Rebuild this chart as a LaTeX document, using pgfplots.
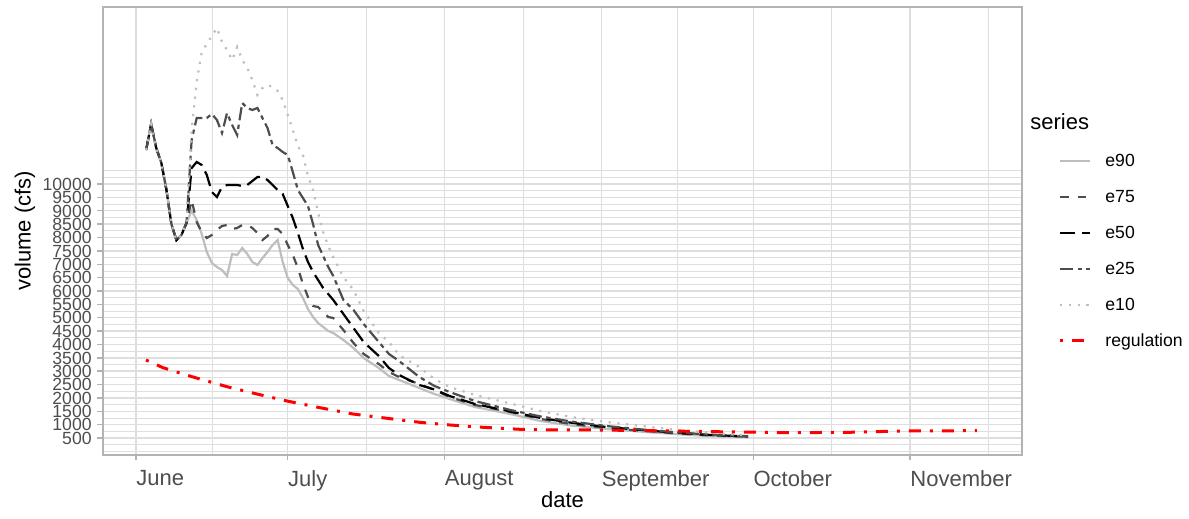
\documentclass[border=0pt]{standalone}
\usepackage{fontspec}
\setmainfont{Liberation Sans}
\usepackage{pgfplots}
\pgfplotsset{compat=1.18}
\definecolor{g70}{HTML}{B3B3B3}
\definecolor{g87}{HTML}{DEDEDE}
\definecolor{g30}{HTML}{4D4D4D}
\definecolor{g75}{HTML}{BEBEBE}
\begin{document}
\begin{tikzpicture}
\begin{axis}[
 scale only axis, width=459.5pt, height=224pt,
 xmin=145.48, xmax=327.13, ymin=-135, ymax=16620,
 scaled y ticks=false, scaled x ticks=false,
 xtick pos=bottom, ytick pos=left,
 xtick={152,182,213,244,274,305},
 xticklabels={June,July,August,September,October,November},
 minor xtick={167,197.5,228.5,259,289.5,320.5},
 ytick={500,1000,...,10000},
 yticklabels={500,1000,1500,2000,2500,3000,3500,4000,4500,5000,5500,6000,6500,7000,7500,8000,8500,9000,9500,10000},
 minor ytick={0,250,...,10500},
 tick align=outside, major tick length=2.75pt, minor tick length=0pt,
 tick style={g70, line width=0.7pt},
 xmajorgrids, ymajorgrids, xminorgrids, yminorgrids,
 major grid style={g87, line width=0.7pt},
 minor grid style={g87, line width=0.36pt},
 axis line style={g70, line width=1pt},
 xticklabel style={font=\fontsize{11}{13}\selectfont, text=g30, anchor=north west, inner sep=0pt, yshift=-4.75pt},
 yticklabel style={font=\fontsize{8.8}{10}\selectfont, text=g30, anchor=east, inner sep=0pt, xshift=-2.75pt, text height=6.3pt, text depth=0pt},
 xlabel={date}, ylabel={volume (cfs)},
 every axis x label/.style={at={(rel axis cs:0.5,-0.1004)}, anchor=center, font=\fontsize{11}{13}\selectfont},
 every axis y label/.style={at={(rel axis cs:-0.0849,0.5)}, rotate=90, anchor=center, font=\fontsize{11}{13}\selectfont},
 legend style={at={(rel axis cs:1.0392,0.6725)}, anchor=north west, draw=none, fill=none,
   inner sep=0pt, row sep=9.9pt, font=\fontsize{8.8}{10}\selectfont,
   nodes={inner sep=0pt, text height=6.3pt, text depth=1.8pt, anchor=base west}},
 legend cell align=left,
 legend image code/.code={\draw[#1] (0pt,3pt) -- (15pt,3pt); \path (22pt,3pt);},
 clip mode=individual,
]
\addplot[g75, line width=1.1pt] coordinates {
(154,11272) (155,12244) (156,11350) (157,10800) (158,9800) (159,8500) (160,7900) (161,8100) (162,8550)
(163,9000) (164,8654) (165,8130) (166,7457) (167,7045) (168,6896) (169,6784) (170,6559) (171,7382)
(172,7345) (173,7606) (174,7382) (175,7083) (176,6971) (177,7232) (178,7457) (179,7719) (180,7906)
(181,7083) (182,6484) (183,6223) (184,6073) (185,5736) (186,5325) (187,5026) (188,4801) (189,4652)
(190,4502) (191,4427) (193,4166) (195,3866) (197,3492) (200,3118) (202,2819) (204,2670) (208,2370)
(211,2146) (214,1959) (219,1660) (226,1398) (232,1136) (238,968) (245,837) (252,736) (258,657)
(265,575) (273,527)};
\addlegendentry{e90}
\addplot[g30, line width=1.1pt, dash pattern=on 4.4pt off 4.4pt] coordinates {
(154,11272) (155,12244) (156,11350) (157,10800) (158,9800) (159,8500) (160,7900) (161,8100) (162,8550)
(163,9402) (164,8579) (165,8205) (166,7980) (167,8093) (168,8280) (169,8429) (170,8467) (171,8317)
(172,8354) (173,8467) (174,8467) (175,8354) (176,8167) (177,7906) (178,8055) (179,8317) (180,8317)
(181,8130) (182,7719) (183,7345) (184,6858) (185,6260) (186,5774) (187,5438) (188,5400) (189,5213)
(190,5026) (191,4988) (193,4540) (195,4053) (197,3642) (200,3268) (202,2969) (204,2782) (208,2520)
(211,2296) (214,2034) (219,1735) (226,1473) (232,1211) (238,1024) (245,875) (252,770) (258,687)
(265,601) (273,545)};
\addlegendentry{e75}
\addplot[black, line width=1.1pt, dash pattern=on 7.7pt off 3.3pt] coordinates {
(154,11272) (155,12244) (156,11350) (157,10800) (158,9800) (159,8500) (160,7900) (161,8100) (162,8550)
(163,10598) (164,10823) (165,10711) (166,10337) (167,9701) (168,9514) (169,9888) (170,9963) (171,9963)
(172,9963) (173,9925) (174,9963) (175,10112) (176,10262) (177,10262) (178,10150) (179,9963) (180,9776)
(181,9626) (182,9177) (183,8728) (184,8167) (185,7569) (186,7083) (187,6709) (188,6410) (189,6110)
(190,5886) (191,5662) (193,5138) (195,4614) (197,4091) (200,3567) (202,3118) (204,2857) (208,2483)
(211,2315) (214,2071) (219,1772) (226,1492) (232,1249) (238,1073) (245,912) (252,800) (258,706)
(265,620) (273,556)};
\addlegendentry{e50}
\addplot[g30, line width=1.1pt, dash pattern=on 6.6pt off 2.2pt on 2.2pt off 2.2pt] coordinates {
(154,11272) (155,12244) (156,11350) (157,10800) (158,9800) (159,8500) (160,7900) (161,8100) (162,8550)
(163,11646) (164,12468) (165,12468) (166,12468) (167,12618) (168,12394) (169,11907) (170,12655) (171,12207)
(172,11833) (173,13029) (174,12842) (175,12768) (176,12842) (177,12468) (178,12094) (179,11459) (180,11346)
(181,11197) (182,11085) (183,10449) (184,9776) (185,9476) (186,9177) (187,8504) (188,7719) (189,7307)
(190,6896) (191,6559) (193,5662) (195,5288) (197,4764) (200,4091) (202,3642) (204,3381) (208,2782)
(211,2445) (214,2221) (219,1884) (226,1548) (232,1305) (238,1118) (245,949) (252,819) (258,725)
(265,631) (273,567)};
\addlegendentry{e25}
\addplot[g75, line width=1.1pt, dash pattern=on 1.1pt off 3.3pt] coordinates {
(154,11272) (155,12244) (156,11350) (157,10800) (158,9800) (159,8500) (160,7900) (161,8100) (162,8550)
(163,12020) (164,13815) (165,14937) (166,15236) (167,15535) (168,15834) (169,15311) (170,15012) (171,14638)
(172,15124) (173,14638) (174,14338) (175,13890) (176,13329) (177,13590) (178,13703) (179,13628) (180,13478)
(181,13142) (182,12581) (183,12020) (184,11421) (185,11085) (186,10299) (187,9776) (188,8915) (189,8205)
(190,7681) (191,7270) (193,6522) (195,6036) (197,5250) (200,4427) (202,4091) (204,3605) (208,3156)
(211,2707) (214,2408) (219,2109) (226,1791) (232,1510) (238,1286) (245,1099) (252,949) (258,819)
(265,706) (273,594)};
\addlegendentry{e10}
\addplot[red, line width=1.5pt, dash pattern=on 1.5pt off 4.5pt on 6pt off 4.5pt] coordinates {
(153.98,3418) (157.34,3130) (163.07,2793) (170,2419) (175.9,2146) (181.85,1884) (188.37,1634)
(194.89,1398) (201.6,1238) (208.1,1087) (214.07,987) (220.6,901) (227.9,826) (233.8,800)
(243.7,800) (253.6,774) (263.5,744) (281.3,699) (293.1,714) (303,762) (318.2,774)};
\addlegendentry{regulation}
\node[anchor=west, font=\fontsize{11}{13}\selectfont, inner sep=0pt] at (rel axis cs:1.0087,0.7433) {series};
\end{axis}
\path (current axis.south west) ++(-51.5pt,-32pt) rectangle ++(594.5pt,259.5pt);
\end{tikzpicture}
\end{document}
